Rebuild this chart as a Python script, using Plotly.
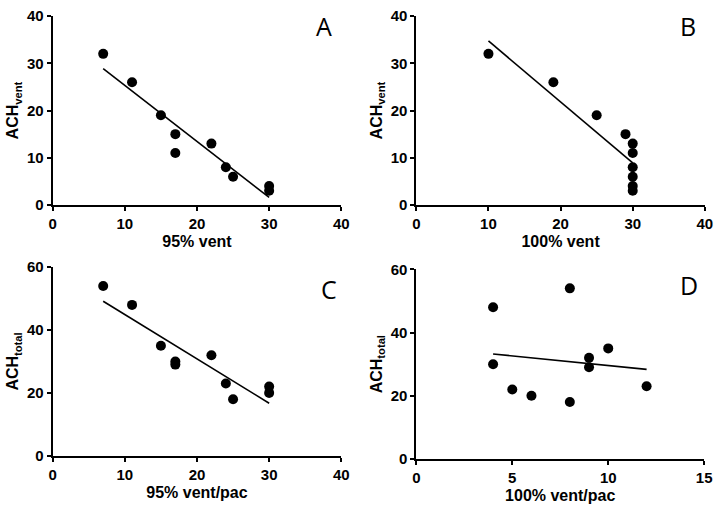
import numpy as np
import plotly.graph_objects as go

W, H = 722, 515

# Panel A
a_x = [7, 11, 15, 17, 17, 22, 24, 25, 30, 30]
a_y = [32, 26, 19, 15, 11, 13, 8, 6, 4, 3]
# Panel B
b_x = [10, 19, 25, 29, 30, 30, 30, 30, 30, 30]
b_y = [32, 26, 19, 15, 13, 11, 8, 6, 4, 3]
# Panel C
c_x = [7, 11, 15, 17, 17, 22, 24, 25, 30, 30]
c_y = [54, 48, 35, 30, 29, 32, 23, 18, 22, 20]
# Panel D
d_x = [4, 4, 5, 6, 8, 8, 9, 9, 10, 12]
d_y = [48, 30, 22, 20, 54, 18, 32, 29, 35, 23]

panels = [
    dict(x=a_x, y=a_y, xt="95% vent", yt="ACH<sub>vent</sub>", letter="A",
         xr=40, xd=10, yr=40, yd=10, box=(49.5, 343, 7.3, 202.7), lpos=(325, 18)),
    dict(x=b_x, y=b_y, xt="100% vent", yt="ACH<sub>vent</sub>", letter="B",
         xr=40, xd=10, yr=40, yd=10, box=(419.3, 712.7, 7.3, 202.7), lpos=(696, 18)),
    dict(x=c_x, y=c_y, xt="95% vent/pac", yt="ACH<sub>total</sub>", letter="C",
         xr=40, xd=10, yr=60, yd=20, box=(49.5, 343, 267, 462), lpos=(330, 290)),
    dict(x=d_x, y=d_y, xt="100% vent/pac", yt="ACH<sub>total</sub>", letter="D",
         xr=15, xd=5, yr=60, yd=20, box=(419.3, 712, 269.3, 465.3), lpos=(697, 285)),
]

FONT = "Liberation Sans, Arial"
fig = go.Figure()
layout = dict(width=W, height=H, margin=dict(l=0, r=0, t=0, b=0),
              paper_bgcolor="white", plot_bgcolor="white", showlegend=False,
              font=dict(family=FONT, color="black"))
annotations = []
for i, p in enumerate(panels, start=1):
    xa = "x" if i == 1 else f"x{i}"
    ya = "y" if i == 1 else f"y{i}"
    x0, x1, y0, y1 = p["box"]
    xk = "xaxis" if i == 1 else f"xaxis{i}"
    yk = "yaxis" if i == 1 else f"yaxis{i}"
    ax_common = dict(showgrid=False, zeroline=False, showline=True, linecolor="black",
                     linewidth=2, ticks="outside", ticklen=4, tickwidth=2, tickcolor="black",
                     tickprefix="<b>", ticksuffix="</b>",
                     tickfont=dict(size=15, family=FONT, color="black"))
    layout[xk] = dict(ax_common, domain=[x0 / W, x1 / W], anchor=ya,
                      range=[0, p["xr"]], dtick=p["xd"], tick0=0,
                      title=dict(text=f"<b>{p['xt']}</b>", font=dict(size=16), standoff=5))
    layout[yk] = dict(ax_common, domain=[1 - y1 / H, 1 - y0 / H], anchor=xa,
                      range=[0, p["yr"]], dtick=p["yd"], tick0=0,
                      title=dict(text=f"<b>{p['yt']}</b>", font=dict(size=16), standoff=4))
    # regression line
    xs = np.array(p["x"], float)
    ys = np.array(p["y"], float)
    m, c = np.polyfit(xs, ys, 1)
    lx = np.array([xs.min(), xs.max()])
    fig.add_trace(go.Scatter(x=lx, y=m * lx + c, mode="lines", xaxis=xa, yaxis=ya,
                             line=dict(color="black", width=1.6)))
    fig.add_trace(go.Scatter(x=p["x"], y=p["y"], mode="markers", xaxis=xa, yaxis=ya,
                             marker=dict(color="black", size=10), cliponaxis=False))
    annotations.append(dict(text=p["letter"], x=p["lpos"][0] / W, y=1 - p["lpos"][1] / H,
                            xref="paper", yref="paper", showarrow=False,
                            font=dict(size=25, family="Open Sans, Liberation Sans", color="black"),
                            xanchor="center", yanchor="middle"))
layout["annotations"] = annotations
fig.update_layout(**layout)
fig.write_html("out.html", config={"displayModeBar": False},
               post_script="document.body.style.margin='0';document.body.style.overflow='hidden';")
